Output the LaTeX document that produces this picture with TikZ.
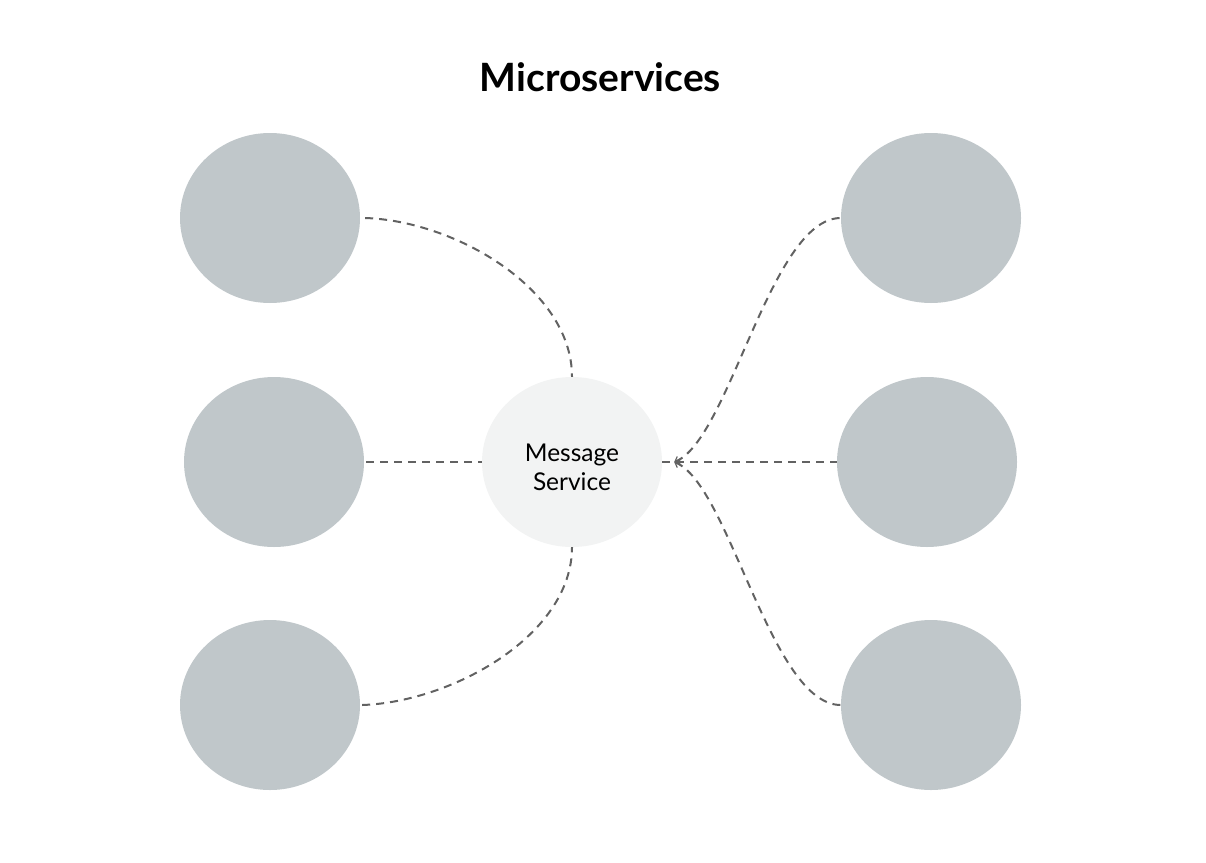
\documentclass[tikz,border=0pt]{standalone}
\usepackage{fontspec}
\setmainfont{Lato}
\usetikzlibrary{shapes.geometric,arrows.meta}
\definecolor{svcgray}{HTML}{C0C7CA}
\definecolor{hubgray}{HTML}{F2F3F3}
\definecolor{linegray}{HTML}{626262}
\begin{document}
\begin{tikzpicture}[x=1pt,y=-1pt,
  svc/.style={ellipse,fill=svcgray,minimum width=180pt,minimum height=170pt,inner sep=0pt},
  hub/.style={ellipse,fill=hubgray,minimum width=180pt,minimum height=170pt,inner sep=0pt},
  hubtext/.style={align=center,font=\fontsize{24.5}{29}\selectfont,inner sep=0pt},
  conn/.style={draw=linegray,line width=2pt,dash pattern=on 8pt off 6pt},
  tip/.style={{Straight Barb[length=4pt,width=8pt,line width=1.2pt]}-}
]
\useasboundingbox (0,0) rectangle (1206,862);
\node[font=\fontsize{39}{44}\bfseries\selectfont] (title) at (600.5,77) {Microservices};
\node[svc] (lt) at (270,218) {};
\node[svc] (lm) at (274,462) {};
\node[svc] (lb) at (270,705) {};
\node[svc] (rt) at (931,218) {};
\node[svc] (rm) at (927,462) {};
\node[svc] (rb) at (931,705) {};
\node[hub] (ms) at (572,462) {};
\node[hubtext] (mslabel) at (572,467) {Message\\Service};
\coordinate (hubr) at ([xshift=12pt]ms.east);
\draw[conn] ([xshift=5pt]lt.east) .. controls +(90,3) and +(0,-88) .. (ms.north);
\draw[conn] ([xshift=2pt]lm.east) -- (ms.west);
\draw[conn] ([xshift=2pt]lb.east) .. controls +(90,-3) and +(0,88) .. (ms.south);
\draw[conn] (ms.east) -- (rm.west);
\draw[conn,tip] (hubr) .. controls +(55,-22) and +(-70,0) .. (rt.west);
\draw[conn,tip] (hubr) .. controls +(55,22) and +(-70,0) .. (rb.west);
\end{tikzpicture}
\end{document}
